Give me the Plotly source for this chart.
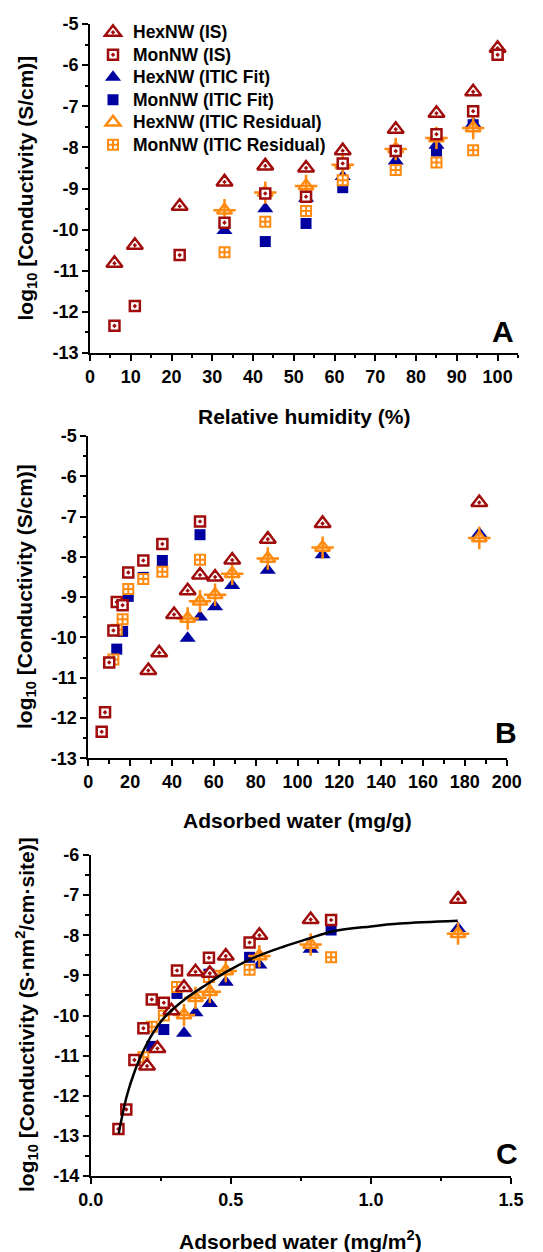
import plotly.graph_objects as go

# ---------------- data ----------------
# Panel A: relative humidity (%)
rh_is = [6, 11, 22, 33, 43, 53, 62, 75, 85, 94, 100]
hex_is = [-10.82, -10.38, -9.43, -8.84, -8.45, -8.50, -8.08, -7.56, -7.17, -6.65, -5.59]
mon_is = [-12.34, -11.86, -10.62, -9.83, -9.12, -9.20, -8.39, -8.09, -7.68, -7.12, -5.75]

rh_hex_itic = [33, 43, 53, 62, 75, 85, 94]
hex_fit = [-10.02, -9.49, -9.24, -8.71, -8.33, -7.95, -7.42]
hex_res = [-9.53, -9.10, -8.94, -8.42, -8.04, -7.77, -7.53]

rh_mon_fit = [43, 53, 62, 75, 85, 94]
mon_fit = [-10.29, -9.85, -8.98, -8.51, -8.09, -7.45]
rh_mon_res = [33, 43, 53, 62, 75, 85, 94]
mon_res = [-10.55, -9.81, -9.55, -8.80, -8.55, -8.37, -8.07]

# Panel B: adsorbed water (mg/g)
water_hex = [28.7, 33.9, 41.0, 47.5, 53.4, 60.6, 68.8, 85.8, 112.0, 186.9]
water_mon = [6.4, 8.0, 10.0, 12.0, 13.6, 16.4, 19.1, 26.3, 35.4, 53.4]
water_hex_itic = [47.5, 53.4, 60.6, 68.8, 85.8, 112.0, 186.9]
water_mon_fit = [13.6, 16.4, 19.1, 26.3, 35.4, 53.4]
water_mon_res = [12.0, 13.6, 16.4, 19.1, 26.3, 35.4, 53.4]

# Panel C: adsorbed water (mg/m2), conductivity per site
area_hex = [0.201, 0.238, 0.288, 0.333, 0.374, 0.425, 0.482, 0.602, 0.785, 1.311]
area_mon = [0.099, 0.127, 0.156, 0.188, 0.218, 0.261, 0.308, 0.422, 0.567, 0.858]
area_hex_itic = [0.333, 0.374, 0.425, 0.482, 0.602, 0.785, 1.311]
area_mon_fit = [0.218, 0.261, 0.308, 0.422, 0.567, 0.858]
area_mon_res = [0.188, 0.218, 0.261, 0.308, 0.422, 0.567, 0.858]

c_hex_is = [-11.26, -10.82, -9.88, -9.30, -8.91, -8.95, -8.52, -8.00, -7.61, -7.10]
c_mon_is = [-12.83, -12.34, -11.11, -10.32, -9.60, -9.68, -8.88, -8.56, -8.18, -7.62]
c_hex_fit = [-10.44, -9.93, -9.70, -9.17, -8.74, -8.35, -7.83]
c_hex_res = [-9.99, -9.56, -9.41, -8.89, -8.52, -8.23, -7.96]
c_mon_fit = [-10.77, -10.35, -9.45, -8.97, -8.55, -7.87]
c_mon_res = [-11.04, -10.28, -10.00, -9.29, -9.04, -8.86, -8.55]

# Fit curve in panel C
curve_x = [0.100, 0.129, 0.158, 0.186, 0.221, 0.264, 0.335, 0.415, 0.482, 0.575, 0.690, 0.780, 0.866, 1.000, 1.104, 1.310]
curve_y = [-12.94, -12.00, -11.37, -10.91, -10.45, -10.04, -9.60, -9.22, -8.92, -8.58, -8.28, -8.08, -7.90, -7.78, -7.71, -7.64]

names = ["HexNW (IS)", "MonNW (IS)", "HexNW (ITIC Fit)", "MonNW (ITIC Fit)",
         "HexNW (ITIC Residual)", "MonNW (ITIC Residual)"]

# tick labels
yt_ab = [-13, -12, -11, -10, -9, -8, -7, -6, -5]
yt_ab_text = ["-13", "-12", "-11", "-10", "-9", "-8", "-7", "-6", "-5"]
yt_c = [-14, -13, -12, -11, -10, -9, -8, -7, -6]
yt_c_text = ["-14", "-13", "-12", "-11", "-10", "-9", "-8", "-7", "-6"]
xt_a = [0, 10, 20, 30, 40, 50, 60, 70, 80, 90, 100]
xt_b = [0, 20, 40, 60, 80, 100, 120, 140, 160, 180, 200]
xt_c = [0.0, 0.5, 1.0, 1.5]
xt_c_text = ["0.0", "0.5", "1.0", "1.5"]

# ---------------- style ----------------
RED = "#A00C0C"
BLUE = "#0000A0"
ORANGE = "#FF8A10"
W, H = 543, 1252
FONT = "Arial, 'Liberation Sans', sans-serif"


def px(x):
    return x / W


def py(y):
    return 1 - y / H


def lg(name):
    return '<span style="font-size:17.5px">' + name + "</span>"


fig = go.Figure()


def add_panel(xa, ya, hx, hy, mx, my, hfx, hfy, hrx, hry, mfx, mfy, mrx, mry, legend):
    common = dict(xaxis=xa, yaxis=ya, mode="markers", showlegend=legend, cliponaxis=False)
    fig.add_trace(go.Scatter(x=hfx, y=hfy, name=lg(names[2]), legendrank=3,
                             marker=dict(symbol="triangle-up", size=14, color=BLUE, line=dict(width=0)), **common))
    fig.add_trace(go.Scatter(x=mfx, y=mfy, name=lg(names[3]), legendrank=4,
                             marker=dict(symbol="square", size=11, color=BLUE, line=dict(width=0)), **common))
    fig.add_trace(go.Scatter(x=hrx, y=hry, name=lg(names[4]), legendrank=5,
                             marker=dict(symbol="triangle-up", size=13, color="white",
                                         line=dict(width=2.5, color=ORANGE)), **common))
    c2 = dict(common)
    c2["showlegend"] = False
    fig.add_trace(go.Scatter(x=hrx, y=hry, name=names[4], hoverinfo="skip",
                             marker=dict(symbol="cross-thin-open", size=16, color=ORANGE,
                                         line=dict(width=2.5, color=ORANGE)), **c2))
    fig.add_trace(go.Scatter(x=mrx, y=mry, name=lg(names[5]), legendrank=6,
                             marker=dict(symbol="square-cross", size=10, color="white",
                                         line=dict(width=2, color=ORANGE)), **common))
    fig.add_trace(go.Scatter(x=hx, y=hy, name=lg(names[0]), legendrank=1,
                             marker=dict(symbol="triangle-up-dot", size=14, color="white",
                                         line=dict(width=2.5, color=RED)), **common))
    fig.add_trace(go.Scatter(x=mx, y=my, name=lg(names[1]), legendrank=2,
                             marker=dict(symbol="square-dot", size=10, color="white",
                                         line=dict(width=2.5, color=RED)), **common))


# Panel A
add_panel("x", "y", rh_is, hex_is, rh_is, mon_is,
          rh_hex_itic, hex_fit, rh_hex_itic, hex_res,
          rh_mon_fit, mon_fit, rh_mon_res, mon_res, True)
# Panel B
add_panel("x2", "y2", water_hex, hex_is[:10], water_mon, mon_is[:10],
          water_hex_itic, hex_fit, water_hex_itic, hex_res,
          water_mon_fit, mon_fit, water_mon_res, mon_res, False)
# Panel C
add_panel("x3", "y3", area_hex, c_hex_is, area_mon, c_mon_is,
          area_hex_itic, c_hex_fit, area_hex_itic, c_hex_res,
          area_mon_fit, c_mon_fit, area_mon_res, c_mon_res, False)
fig.add_trace(go.Scatter(x=curve_x, y=curve_y, xaxis="x3", yaxis="y3", mode="lines",
                         line=dict(color="black", width=2.5, shape="spline"),
                         showlegend=False, hoverinfo="skip"))

tickfont = dict(family=FONT, size=18, color="black", weight="bold")


def xaxis(dom, anchor, rng, tv, tt, minor_dtick):
    return dict(domain=dom, anchor=anchor, range=rng, tickmode="array", tickvals=tv, ticktext=tt,
                showline=True, linecolor="black", linewidth=1.8, ticks="outside", ticklen=6,
                tickwidth=1.8, tickcolor="black", showgrid=False, zeroline=False, tickfont=tickfont,
                automargin=False,
                minor=dict(tickmode="linear", tick0=0, dtick=minor_dtick, ticks="outside",
                           ticklen=3.5, tickwidth=1.5, tickcolor="black", showgrid=False))


def yaxis(dom, anchor, rng, tv, tt):
    return dict(domain=dom, anchor=anchor, range=rng, tickmode="array", tickvals=tv, ticktext=tt,
                showline=True, linecolor="black", linewidth=1.8, ticks="outside", ticklen=6,
                tickwidth=1.8, tickcolor="black", showgrid=False, zeroline=False, tickfont=tickfont,
                automargin=False,
                minor=dict(tickmode="linear", tick0=0, dtick=0.5, ticks="outside",
                           ticklen=3.5, tickwidth=1.5, tickcolor="black", showgrid=False))


fig.update_layout(
    width=W, height=H, margin=dict(l=0, r=0, t=0, b=0, autoexpand=False),
    paper_bgcolor="white", plot_bgcolor="white",
    font=dict(family=FONT, size=18, color="black", weight="bold"),
    xaxis=xaxis([px(90), px(518)], "y", [0, 105], xt_a, [str(v) for v in xt_a], 5),
    yaxis=yaxis([py(353), py(24)], "x", [-13, -5], yt_ab, yt_ab_text),
    xaxis2=xaxis([px(88.3), px(506.7)], "y2", [0, 200], xt_b, [str(v) for v in xt_b], 10),
    yaxis2=yaxis([py(758.3), py(436)], "x2", [-13, -5], yt_ab, yt_ab_text),
    xaxis3=xaxis([px(90.7), px(511)], "y3", [0, 1.5], xt_c, xt_c_text, 0.25),
    yaxis3=yaxis([py(1176), py(855)], "x3", [-14, -6], yt_c, yt_c_text),
    legend=dict(x=px(93), y=py(16), xanchor="left", yanchor="top", bgcolor="rgba(0,0,0,0)",
                font=dict(family=FONT, size=15, color="black", weight="bold"),
                traceorder="normal"),
)

title_font = dict(family=FONT, size=21, color="black", weight="bold")
annots = [
    dict(text="log<sub>10</sub> [Conductivity (S/cm)]", x=px(26), y=py(188.5), textangle=-90),
    dict(text="log<sub>10</sub> [Conductivity (S/cm)]", x=px(26), y=py(597), textangle=-90),
    dict(text="log<sub>10</sub> [Conductivity (S·nm<sup>2</sup>/cm·site)]", x=px(26), y=py(1015), textangle=-90),
    dict(text="Relative humidity (%)", x=px(304), y=py(416)),
    dict(text="Adsorbed water (mg/g)", x=px(297), y=py(820)),
    dict(text="Adsorbed water (mg/m<sup>2</sup>)", x=px(300), y=py(1240)),
]
for a in annots:
    fig.add_annotation(xref="paper", yref="paper", showarrow=False, xanchor="center",
                       yanchor="middle", font=title_font, **a)

letter_font = dict(family=FONT, size=30, color="black", weight="bold")
for letter, lx, ly in [("A", 503, 331), ("B", 506, 732), ("C", 507, 1153)]:
    fig.add_annotation(xref="paper", yref="paper", x=px(lx), y=py(ly), text=letter, showarrow=False,
                       xanchor="center", yanchor="middle", font=letter_font)

# remove the browser's default 8px page margin so the figure fills the window exactly
fig.write_html("out.html", config={"displayModeBar": False},
               post_script="document.body.style.margin='0';")
